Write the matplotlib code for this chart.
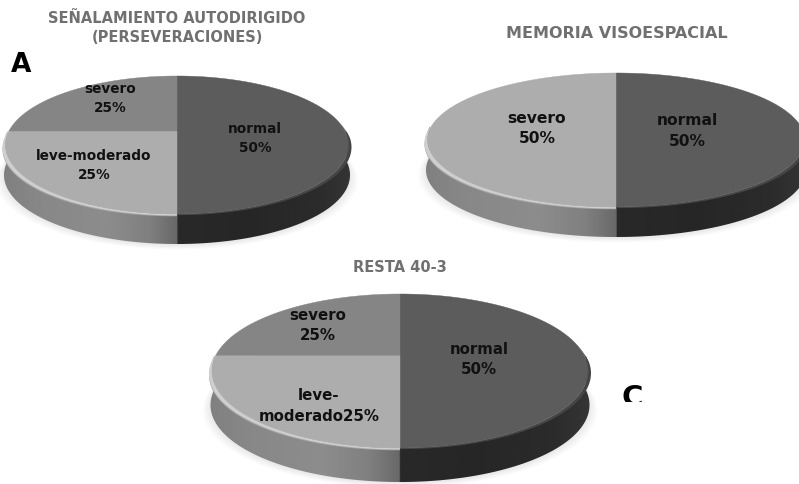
import numpy as np
import matplotlib
matplotlib.use("Agg")
import matplotlib.pyplot as plt
from matplotlib.patches import Polygon, Rectangle

# slice order: normal, leve-moderado, severo (clockwise from 12 o'clock)
names_a = ["normal", "leve-moderado", "severo"]
values_a = [50, 25, 25]
greys_a = ["#5c5c5c", "#adadad", "#858585"]
seps_a = ["\n", "\n", "\n"]

names_b = ["normal", "severo"]
values_b = [50, 50]
greys_b = ["#5c5c5c", "#adadad"]
seps_b = ["\n", "\n"]

names_c = ["normal", "leve-\nmoderado", "severo"]
values_c = [50, 25, 25]
greys_c = ["#5c5c5c", "#adadad", "#858585"]
seps_c = ["\n", "", "\n"]

title_a = "SEÑALAMIENTO AUTODIRIGIDO\n(PERSEVERACIONES)"
title_b = "MEMORIA VISOESPACIAL"
title_c = "RESTA 40-3"

# layout in pixels: hub x, top, bottom of the face, half width, thickness
geom_a = (177, 77, 215, 171.5, 30)
geom_b = (616, 74, 208, 188.5, 30)
geom_c = (400, 295, 449, 188, 34)

label_pos_a = [(255, 138.5), (94, 165.5), (110, 98.5)]
label_pos_b = [(687, 131), (537, 128.5)]
label_pos_c = [(479, 359.5), (319, 406), (318, 325.5)]

K = 0.203  # how much the far edge shrinks


def face_xy(t, geom, grow=0.0):
    cx, top, bot, rx, depth = geom
    h = (bot - top) * (1 - K * K) / 2.0
    r = (rx + grow) * np.sqrt(1 - K * K)
    w = 1 + K * np.sin(t)
    hub = top + h / (1 + K)
    return cx + r * np.cos(t) / w, hub - h * np.sin(t) / w, hub


def draw_side(ax, geom):
    cx, top, bot, rx, depth = geom
    t = np.linspace(np.pi, 2 * np.pi, 200)
    x, y, hub = face_xy(t, geom, 1.5)
    outline = np.column_stack([np.r_[x, x[::-1]], np.r_[y, y[::-1] + depth]])
    # left half is mid grey, right half goes nearly black
    xs = np.array([0, 0.1, 0.3, 0.42, 0.499, 0.5, 0.7, 0.9, 1.0])
    gs = np.array([0.50, 0.53, 0.55, 0.50, 0.41, 0.16, 0.15, 0.17, 0.21])
    u = np.linspace(0, 1, 600)
    grad = np.interp(u, xs, gs)[None, :]
    im = ax.imshow(grad, cmap="gray", vmin=0, vmax=1, aspect="auto", zorder=2,
                   extent=(cx - rx - 4, cx + rx + 4, bot + depth + 2, top), interpolation="bilinear")
    clip = Polygon(outline, closed=True, transform=ax.transData)
    im.set_clip_path(clip)


def draw_rim(ax, geom, a0, a1, grey, amount):
    # crescent between the face edge and a slightly larger, lower copy of it
    a = np.linspace(a0, a1, 120)
    u = np.linspace(0, 1, 120)
    g = np.clip(u / 0.12, 0, 1)
    f = g * (1 - 0.55 * u)
    x0, y0, hub = face_xy(a, geom)
    x1, y1, hub = face_xy(a, geom, 3.0 * g)
    pts = np.column_stack([np.r_[x0, x1[::-1]], np.r_[y0, (y1 + amount * f)[::-1]]])
    ax.add_patch(Polygon(pts, closed=True, fc=grey, ec="none", zorder=2.5))


def draw_pie(ax, geom, values, greys):
    cx, top, bot, rx, depth = geom
    # soft shadow below the disc
    t = np.linspace(0, 2 * np.pi, 200)
    x, y, hub = face_xy(t, geom)
    for grow in [9, 7, 5, 3, 1]:
        ax.fill(cx + (x - cx) * (1 + grow / rx), y + depth + grow * 0.6, color="k", alpha=0.018, lw=0, zorder=1)
    draw_side(ax, geom)
    draw_rim(ax, geom, 0.95 * np.pi, 1.5 * np.pi, "#a6a6a6", 5.0)
    draw_rim(ax, geom, 0.95 * np.pi, 1.5 * np.pi, "#cfcfcf", 3.2)
    draw_rim(ax, geom, 2.05 * np.pi, 1.5 * np.pi, "#454545", 2.5)

    # slices go clockwise from the top
    total = float(sum(values))
    start = np.pi / 2
    for val, grey in zip(values, greys):
        sweep = 2 * np.pi * val / total
        a = np.linspace(start, start - sweep, 120)
        x, y, hub = face_xy(a, geom)
        pts = np.column_stack([np.r_[cx, x], np.r_[hub, y]])
        ax.add_patch(Polygon(pts, closed=True, fc=grey, ec=grey, lw=0.3, zorder=3))
        start -= sweep


def draw_labels(ax, names, values, seps, positions, size):
    for name, val, sep, (px, py) in zip(names, values, seps, positions):
        ax.text(px, py, f"{name}{sep}{val}%", ha="center", va="center", fontsize=size,
                fontweight="bold", family="DejaVu Sans", color="#111111", linespacing=1.42, zorder=6)


fig = plt.figure(figsize=(7.99, 4.85), dpi=100)
ax = fig.add_axes([0, 0, 1, 1])

draw_pie(ax, geom_a, values_a, greys_a)
draw_pie(ax, geom_b, values_b, greys_b)
draw_pie(ax, geom_c, values_c, greys_c)

draw_labels(ax, names_a, values_a, seps_a, label_pos_a, 9.8)
draw_labels(ax, names_b, values_b, seps_b, label_pos_b, 11.2)
draw_labels(ax, names_c, values_c, seps_c, label_pos_c, 10.8)

title_style = dict(ha="center", va="center", family="DejaVu Sans", fontweight="bold", color="#707070")
ax.text(177, 28, title_a, linespacing=1.38, fontsize=10.5, **title_style)
ax.text(616.5, 34, title_b, fontsize=11.5, **title_style)
ax.text(399.5, 268, title_c, fontsize=10.5, **title_style)

ax.text(21, 65, "A", ha="center", va="center", fontsize=19, fontweight="bold", color="k", family="DejaVu Sans")
ax.text(632, 398, "C", ha="center", va="center", fontsize=21, fontweight="bold", color="k", family="DejaVu Sans", zorder=6)
# the C is cut off along the bottom
ax.add_patch(Rectangle((610, 403), 50, 20, fc="white", ec="none", zorder=7))

ax.set_xlim(0, 799)
ax.set_ylim(485, 0)
ax.axis("off")
fig.savefig("out.png", dpi=100)
